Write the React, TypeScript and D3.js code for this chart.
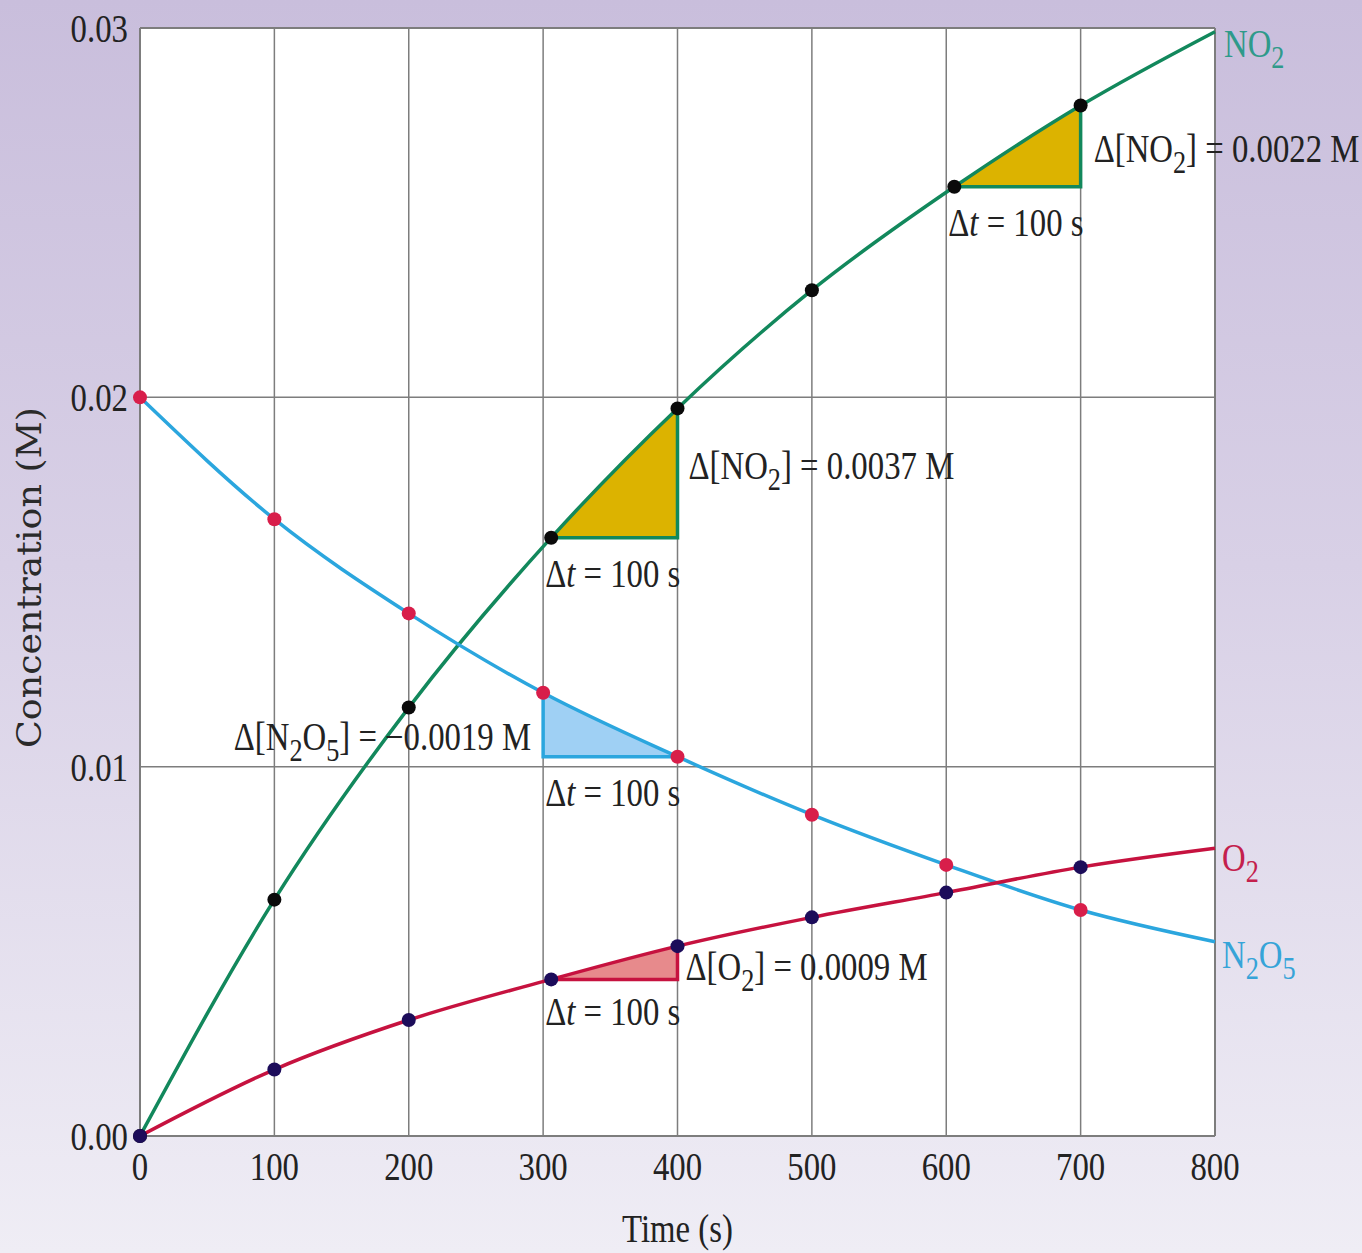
import * as d3 from 'd3'

// concentrations (M), time in s
const no2Times = [0, 100, 200, 306, 400, 500, 606, 700, 800]
const no2Values = [0, 0.0064, 0.0116, 0.0162, 0.0197, 0.0229, 0.0257, 0.0279, 0.0299]
const n2o5Times = [0, 100, 200, 300, 400, 500, 600, 700, 800]
const n2o5Values = [0.02, 0.0167, 0.01415, 0.0120, 0.01027, 0.0087, 0.00734, 0.00612, 0.00526]
const o2Times = [0, 100, 200, 306, 400, 500, 600, 700, 800]
const o2Values = [0, 0.0018, 0.00314, 0.00424, 0.00514, 0.00592, 0.00659, 0.00728, 0.00779]

const xTicks = [0, 100, 200, 300, 400, 500, 600, 700, 800]
const yTicks = [0, 0.01, 0.02, 0.03]

const W = 1362
const H = 1253
const margin = { top: 28, right: 147, bottom: 117, left: 140 }

const x = d3.scaleLinear().domain([0, 800]).range([margin.left, W - margin.right])
const y = d3.scaleLinear().domain([0, 0.03]).range([H - margin.bottom, margin.top])

const zip = (ts: number[], vs: number[]) => ts.map((t, i) => ({ t, v: vs[i] }))

const series = [
  { key: 'no2', pts: zip(no2Times, no2Values), line: '#12885c', dot: '#0a0a0a', fill: '#dcb300' },
  { key: 'n2o5', pts: zip(n2o5Times, n2o5Values), line: '#2ba6de', dot: '#d81e4a', fill: '#9fd0f4' },
  { key: 'o2', pts: zip(o2Times, o2Values), line: '#c6123f', dot: '#1c0c5a', fill: '#e78a8c' }
]

// rate triangles: which curve, start and end time
const deltas = [
  { key: 'no2', t0: 306, t1: 400 },
  { key: 'no2', t0: 606, t1: 700 },
  { key: 'n2o5', t0: 300, t1: 400 },
  { key: 'o2', t0: 306, t1: 400 }
]

const font = '"Liberation Serif", "Times New Roman", serif'
const SX = 0.82
const SUB = 11

const line = d3
  .line<{ t: number; v: number }>()
  .x(d => x(d.t))
  .y(d => y(d.v))
  .curve(d3.curveMonotoneX)

function valueAt(key: string, t: number) {
  const s = series.find(s => s.key === key)!
  return s.pts.find(p => p.t === t)!.v
}

function Txt({ x0, y0, anchor = 'start', fill = '#222', size = 40, children }: any) {
  return (
    <text
      transform={`translate(${x0},${y0}) scale(${SX},1)`}
      textAnchor={anchor}
      fontFamily={font}
      fontSize={size}
      fill={fill}
    >
      {children}
    </text>
  )
}

// "_" marks a subscript character: "NO_2" -> NO₂
function Chem({ s }: { s: string }) {
  const parts: { text: string; sub: boolean }[] = []
  for (let i = 0; i < s.length; i++) {
    if (s[i] === '_') {
      parts.push({ text: s[i + 1], sub: true })
      i++
    } else if (parts.length && !parts[parts.length - 1].sub) {
      parts[parts.length - 1].text += s[i]
    } else {
      parts.push({ text: s[i], sub: false })
    }
  }
  let level = 0
  return (
    <>
      {parts.map((p, i) => {
        const target = p.sub ? SUB : 0
        const dy = target - level
        level = target
        return (
          <tspan key={i} dy={dy} fontSize={p.sub ? 32 : undefined}>
            {p.text}
          </tspan>
        )
      })}
    </>
  )
}

function Triangle({ d, i }: any) {
  const s = series.find(s => s.key === d.key)!
  const v0 = valueAt(d.key, d.t0)
  const v1 = valueAt(d.key, d.t1)
  const rising = v1 > v0
  const base = rising ? v0 : v1
  const area = d3
    .area<{ t: number; v: number }>()
    .x(p => x(p.t))
    .y0(y(base))
    .y1(p => y(p.v))
    .curve(d3.curveMonotoneX)
  const id = `clip-${i}`
  const edge = rising
    ? `M${x(d.t0)},${y(base)}H${x(d.t1)}V${y(v1)}`
    : `M${x(d.t0)},${y(v0)}V${y(base)}H${x(d.t1)}`
  return (
    <g>
      <clipPath id={id}>
        <rect x={x(d.t0)} y={margin.top} width={x(d.t1) - x(d.t0)} height={y(0) - margin.top} />
      </clipPath>
      <path d={area(s.pts) || ''} fill={s.fill} clipPath={`url(#${id})`} />
      <path d={edge} fill="none" stroke={s.line} strokeWidth={3.5} />
    </g>
  )
}

export default function App() {
  const gridColor = '#7d7d7d'
  const dtLabel = (t0: number, base: number) => (
    <Txt x0={x(Math.floor(t0 / 100) * 100) + 2} y0={y(base) + 49}>
      Δ<tspan fontStyle="italic">t</tspan> = 100 s
    </Txt>
  )
  return (
    <svg width={W} height={H} style={{ position: 'absolute', left: 0, top: 0 }}>
      <defs>
        <linearGradient id="bg" x1="0" y1="0" x2="0" y2="1">
          <stop offset="0%" stopColor="#c9bedc" />
          <stop offset="45%" stopColor="#d8d0e6" />
          <stop offset="100%" stopColor="#efedf5" />
        </linearGradient>
      </defs>
      <rect width={W} height={H} fill="url(#bg)" />
      <rect
        x={x(0)}
        y={y(0.03)}
        width={x(800) - x(0)}
        height={y(0) - y(0.03)}
        fill="#fff"
      />

      {/* grid */}
      {xTicks.map(t => (
        <line key={'gx' + t} x1={x(t)} x2={x(t)} y1={y(0)} y2={y(0.03)} stroke={gridColor} strokeWidth={t === 0 || t === 800 ? 2 : 1.5} />
      ))}
      {yTicks.map(v => (
        <line key={'gy' + v} x1={x(0)} x2={x(800)} y1={y(v)} y2={y(v)} stroke={gridColor} strokeWidth={v === 0 || v === 0.03 ? 2.2 : 1.5} />
      ))}

      {/* rate triangles */}
      {deltas.map((d, i) => (
        <Triangle key={i} d={d} i={i} />
      ))}

      {/* curves */}
      {series.map(s => (
        <path key={s.key} d={line(s.pts) || ''} fill="none" stroke={s.line} strokeWidth={3.5} />
      ))}

      {/* points */}
      {series.map(s =>
        s.pts
          .filter(p => p.t < 800)
          .map(p => <circle key={s.key + p.t} cx={x(p.t)} cy={y(p.v)} r={7} fill={s.dot} />)
      )}

      {/* tick labels */}
      {yTicks.map(v => (
        <Txt key={'ly' + v} x0={x(0) - 12} y0={y(v) + 14} anchor="end">
          {d3.format('.2f')(v)}
        </Txt>
      ))}
      {xTicks.map(t => (
        <Txt key={'lx' + t} x0={x(t)} y0={y(0) + 44} anchor="middle">
          {t}
        </Txt>
      ))}

      {/* axis titles */}
      <Txt x0={(x(0) + x(800)) / 2} y0={1242} anchor="middle">Time (s)</Txt>
      <text
        transform={`translate(41,${(407 + 748) / 2}) rotate(-90)`}
        textAnchor="middle"
        fontFamily={'"DejaVu Serif", serif'}
        fontSize={33}
        fill="#2a2a2a"
        textLength={341}
        lengthAdjust="spacingAndGlyphs"
      >
        Concentration (M)
      </text>

      {/* series labels */}
      <Txt x0={x(800) + 9} y0={y(0.0299) + 25} fill="#2f9a8a">
        <Chem s="NO_2" />
      </Txt>
      <Txt x0={x(800) + 7} y0={y(0.00779) + 23} fill="#c4204c">
        <Chem s="O_2" />
      </Txt>
      <Txt x0={x(800) + 7} y0={y(0.00526) + 26} fill="#36a4d8">
        <Chem s="N_2O_5" />
      </Txt>

      {/* delta annotations */}
      <Txt x0={x(700) + 13} y0={y(valueAt('no2', 606)) - 25}>
        <Chem s="Δ[NO_2] = 0.0022 M" />
      </Txt>
      {dtLabel(606, valueAt('no2', 606))}
      <Txt x0={x(400) + 11} y0={y(valueAt('no2', 306)) - 59}>
        <Chem s="Δ[NO_2] = 0.0037 M" />
      </Txt>
      {dtLabel(306, valueAt('no2', 306))}
      <Txt x0={x(300) - 12} y0={y(valueAt('n2o5', 400)) - 7} anchor="end">
        <Chem s="Δ[N_2O_5] = −0.0019 M" />
      </Txt>
      {dtLabel(300, valueAt('n2o5', 400))}
      <Txt x0={x(400) + 8} y0={y(valueAt('o2', 306)) + 1}>
        <Chem s="Δ[O_2] = 0.0009 M" />
      </Txt>
      {dtLabel(306, valueAt('o2', 306) + 0.0001)}
    </svg>
  )
}
